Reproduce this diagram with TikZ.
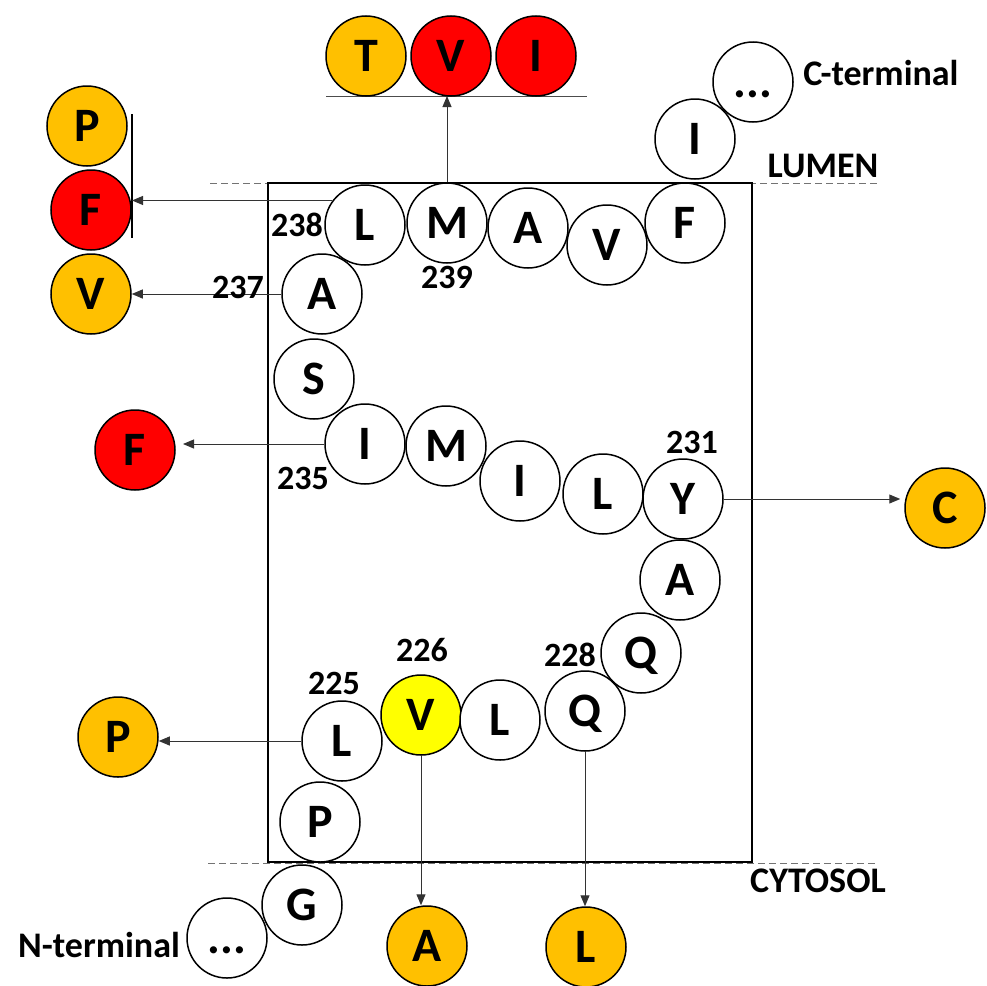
\documentclass[tikz,border=0pt]{standalone}
\usepackage{fontspec}
\setmainfont{Carlito}
\usetikzlibrary{arrows.meta}
\definecolor{orng}{HTML}{FFC000}
\definecolor{rd}{HTML}{FF0000}
\definecolor{yl}{HTML}{FFFF00}
\begin{document}
\begin{tikzpicture}[x=1pt,y=-1pt,
 res/.style={circle,draw=black,line width=1.5pt,fill=white,minimum size=80pt,inner sep=0pt,
   text height=31pt,text depth=0pt,font=\fontsize{48}{50}\selectfont\bfseries},
 mutO/.style={res,fill=orng},
 mutR/.style={res,fill=rd},
 mutY/.style={res,fill=yl},
 num/.style={font=\fontsize{34}{36}\selectfont\bfseries,inner sep=0pt},
 lab/.style={font=\fontsize{36}{38}\selectfont\bfseries,inner sep=0pt},
 arr/.style={draw=black!80,line width=1pt,-{Triangle[length=11pt,width=9pt]}},
 memb/.style={draw=black!55,line width=1pt,dash pattern=on 7pt off 4pt},
 frame/.style={draw=black,line width=1.6pt},
 thin/.style={draw=black!70,line width=1pt}]
\useasboundingbox (0,0) rectangle (987,985);

% membrane
\draw[memb] (210,183) -- (877,183);
\draw[memb] (208,863) -- (876,863);
\draw[frame] (268,183) rectangle (752,862);

% top substitution line and bar
\coordinate (tl) at (326,96);
\coordinate (tr) at (587,96);
\draw[thin] (tl) -- (tr);
\coordinate (bt) at (132,114);
\coordinate (bb) at (132,238);
\draw[line width=1.3pt] (bt) -- (bb);

% chain residues
\node[res] (Nt) at (227,938) {...};
\node[res] (G) at (302,905) {G};
\node[res] (P224) at (320,822) {P};
\node[res] (L225) at (342,741) {L};
\node[mutY] (V226) at (421,715) {V};
\node[res] (L227) at (500,720) {L};
\node[res] (Q228) at (585,711) {Q};
\node[res] (Q229) at (641,653) {Q};
\node[res] (A230) at (680,580) {A};
\node[res] (Y231) at (683,499) {Y};
\node[res] (L232) at (603,494) {L};
\node[res] (I233) at (520,481) {I};
\node[res] (M234) at (446,446) {M};
\node[res] (I235) at (365,444) {I};
\node[res] (S236) at (314,379) {S};
\node[res] (A237) at (322,294) {A};
\node[res] (L238) at (365,225) {L};
\node[res] (M239) at (447,223) {M};
\node[res] (A240) at (528,228) {A};
\node[res] (V241) at (607,245) {V};
\node[res] (F242) at (685,223) {F};
\node[res] (I243) at (695,139) {I};
\node[res] (Ct) at (753,82) {...};

% substitutions
\node[mutO] (To) at (366,56) {T};
\node[mutR] (Vr) at (451,56) {V};
\node[mutR] (Ir) at (536,56) {I};
\node[mutO] (Po1) at (87,126) {P};
\node[mutR] (Fr1) at (91,210) {F};
\node[mutO] (Vo) at (91,294) {V};
\node[mutR] (Fr2) at (135,450) {F};
\node[mutO] (Co) at (945,508) {C};
\node[mutO] (Po2) at (118,737) {P};
\node[mutO] (Ao) at (427,946) {A};
\node[mutO] (Lo) at (586,947) {L};

% arrows
\draw[arr] (M239.north) -- (M239.north |- tl);
\draw[arr] (L238.143) -- (L238.143 -| bt);
\draw[arr] (A237.west) -- (Vo.east);
\coordinate (Ftip) at (183,446);
\draw[arr] (I235.west) -- (I235.west -| Ftip);
\draw[arr] (Y231.east) -- ([xshift=-4pt]Y231.east -| Co.west);
\draw[arr] (L225.west) -- (L225.west -| Po2.east);
\draw[arr] (V226.south) -- (V226.south |- Ao.north);
\draw[arr] (Q228.south) -- (Q228.south |- Lo.north);

% numbers
\node[num] (n238) at (297,225) {238};
\node[num] (n239) at (447,277) {239};
\node[num] (n237) at (238,287) {237};
\node[num] (n235) at (303,478) {235};
\node[num] (n231) at (692,442) {231};
\node[num] (n228) at (570,655) {228};
\node[num] (n225) at (334,683) {225};
\node[num] (n226) at (422,650) {226};

% labels
\node[lab] (cterm) at (881,73) {C-terminal};
\node[lab] (lumen) at (823,166) {LUMEN};
\node[lab] (cyto) at (818,881) {CYTOSOL};
\node[lab] (nterm) at (99,945) {N-terminal};
\end{tikzpicture}
\end{document}
